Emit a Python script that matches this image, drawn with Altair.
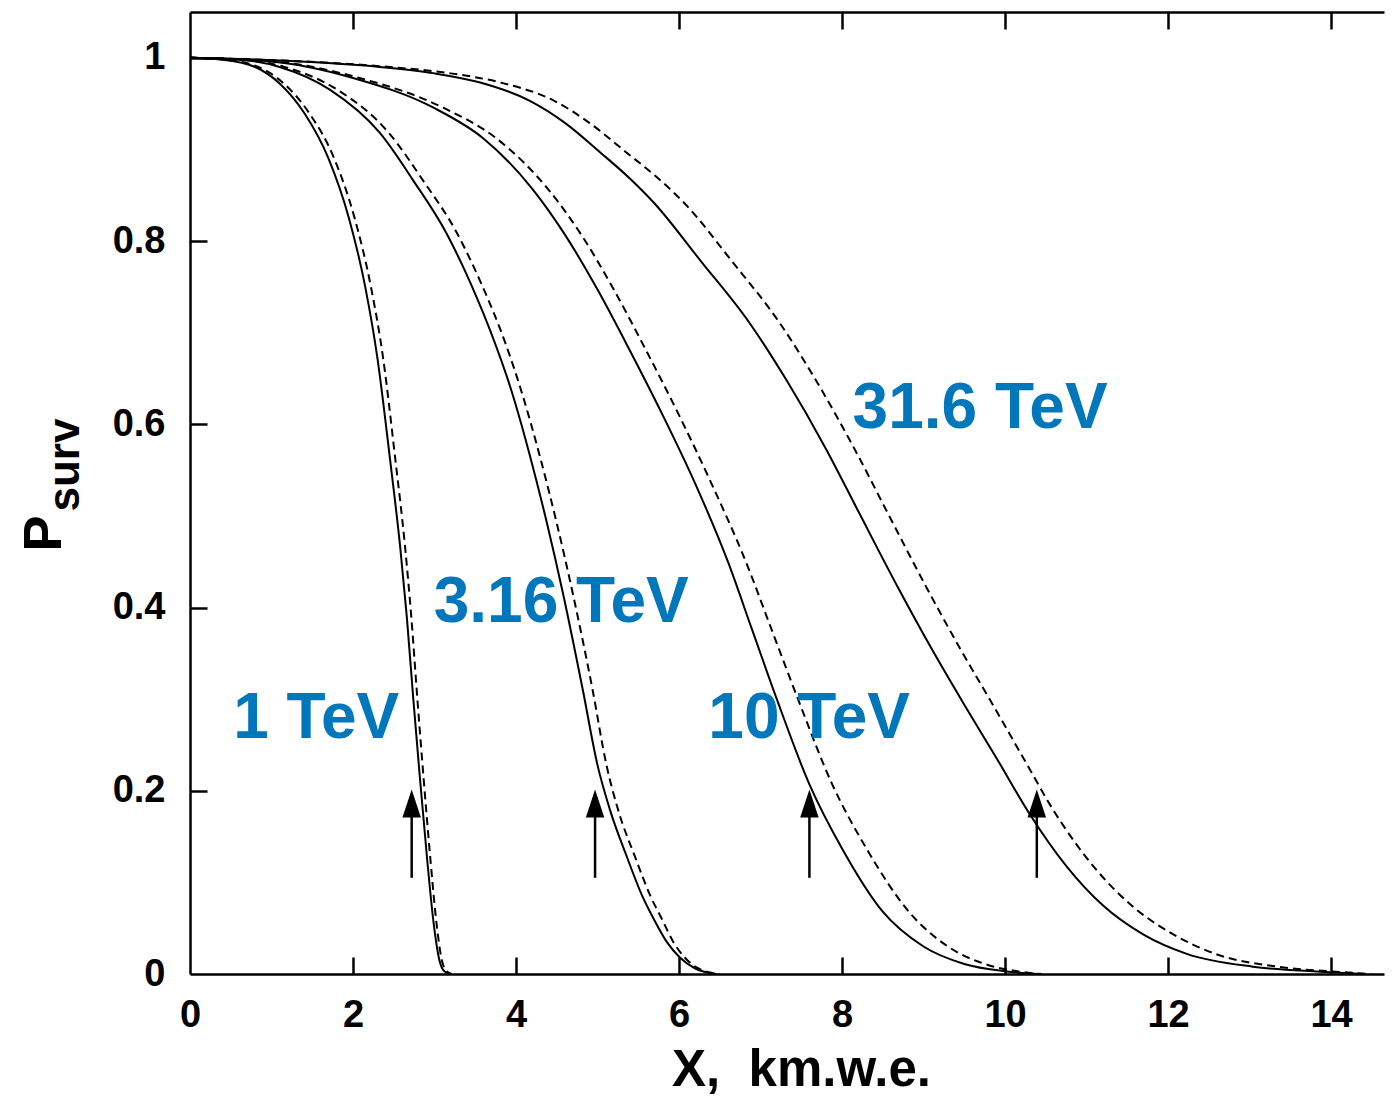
import altair as alt
import pandas as pd

# ---------------- data ----------------
e1_solid_x = [0, 0.4, 0.8, 1.1, 1.4, 1.7, 1.95, 2.15, 2.3, 2.45, 2.58, 2.66, 2.74, 2.82, 2.91, 2.99, 3.06, 3.12, 3.19]
e1_solid_y = [1, 0.998, 0.99, 0.972, 0.94, 0.89, 0.825, 0.75, 0.672, 0.565, 0.465, 0.39, 0.30, 0.215, 0.125, 0.055, 0.015, 0.003, 0.0]
e1_dash_x = [0, 0.42, 0.84, 1.15, 1.46, 1.77, 2.02, 2.22, 2.37, 2.515, 2.64, 2.715, 2.79, 2.865, 2.95, 3.025, 3.09, 3.15, 3.21]
e1_dash_y = [1, 0.998, 0.99, 0.972, 0.94, 0.89, 0.825, 0.75, 0.672, 0.565, 0.465, 0.39, 0.30, 0.215, 0.125, 0.055, 0.015, 0.003, 0.0]

e3_solid_x = [0, 0.6, 1.1, 1.72, 2.33, 2.74, 3.15, 3.35, 3.52, 3.68, 3.95, 4.17, 4.38, 4.58, 4.82, 5.0, 5.15, 5.36, 5.55, 5.69, 5.85, 6.01, 6.2, 6.46]
e3_solid_y = [1, 0.998, 0.99, 0.965, 0.918, 0.866, 0.808, 0.772, 0.738, 0.703, 0.635, 0.566, 0.492, 0.414, 0.31, 0.228, 0.18, 0.128, 0.085, 0.06, 0.035, 0.018, 0.006, 0.0]
e3_dash_x = [0, 0.63, 1.16, 1.81, 2.44, 2.86, 3.28, 3.48, 3.65, 3.81, 4.07, 4.29, 4.50, 4.70, 4.94, 5.11, 5.25, 5.46, 5.65, 5.79, 5.93, 6.07, 6.24, 6.5]
e3_dash_y = [1, 0.998, 0.99, 0.965, 0.918, 0.866, 0.808, 0.772, 0.738, 0.703, 0.635, 0.566, 0.492, 0.414, 0.31, 0.228, 0.18, 0.128, 0.085, 0.06, 0.035, 0.018, 0.006, 0.0]

e10_solid_x = [0, 1.0, 2.0, 3.0, 3.6, 4.2, 4.6, 5.0, 5.4, 5.8, 6.2, 6.6, 6.9, 7.2, 7.6, 8.0, 8.5, 9.0, 9.5, 10.0, 10.4]
e10_solid_y = [1, 0.996, 0.978, 0.945, 0.912, 0.857, 0.807, 0.747, 0.68, 0.61, 0.535, 0.45, 0.375, 0.3, 0.207, 0.137, 0.068, 0.03, 0.011, 0.003, 0.0]
e10_dash_x = [0, 1.03, 2.08, 3.12, 3.76, 4.39, 4.8, 5.2, 5.6, 6.0, 6.4, 6.82, 7.14, 7.46, 7.88, 8.3, 8.82, 9.3, 9.75, 10.15, 10.45]
e10_dash_y = [1, 0.996, 0.978, 0.945, 0.912, 0.857, 0.807, 0.747, 0.68, 0.61, 0.535, 0.45, 0.375, 0.3, 0.207, 0.137, 0.068, 0.03, 0.011, 0.003, 0.0]

e31_solid_x = [0, 1.1, 2.33, 3.0, 3.56, 4.17, 4.6, 5.03, 5.4, 5.7, 6.26, 6.87, 7.32, 7.81, 8.2, 8.68, 9.1, 9.5, 9.9, 10.3, 10.76, 11.2, 11.7, 12.23, 13.04, 13.86, 14.4]
e31_solid_y = [1, 0.997, 0.99, 0.983, 0.973, 0.953, 0.929, 0.897, 0.868, 0.841, 0.779, 0.71, 0.648, 0.572, 0.505, 0.423, 0.355, 0.294, 0.235, 0.175, 0.117, 0.075, 0.043, 0.022, 0.008, 0.0025, 0.0]
e31_dash_x = [0, 1.15, 2.45, 3.2, 3.81, 4.47, 4.9, 5.35, 5.75, 6.07, 6.64, 7.24, 7.68, 8.16, 8.55, 9.03, 9.45, 9.85, 10.23, 10.62, 11.09, 11.55, 12.07, 12.58, 13.34, 14.06, 14.5]
e31_dash_y = [1, 0.997, 0.99, 0.983, 0.973, 0.953, 0.929, 0.897, 0.868, 0.841, 0.779, 0.71, 0.648, 0.572, 0.505, 0.423, 0.355, 0.294, 0.235, 0.175, 0.117, 0.075, 0.043, 0.022, 0.008, 0.0025, 0.0]

label_text = ["1 TeV", "3.16 TeV", "10 TeV", "31.6 TeV"]
label_x = [0.53, 2.99, 6.36, 8.13]
label_y = [0.258, 0.384, 0.258, 0.596]

arrow_x = [2.72, 4.97, 7.60, 10.39]
arrow_y0 = [0.105, 0.105, 0.105, 0.105]
arrow_y1 = [0.175, 0.175, 0.175, 0.175]
arrow_head_y = [0.186, 0.186, 0.186, 0.186]

x_ticks = [0, 2, 4, 6, 8, 10, 12, 14]
y_ticks = [0, 0.2, 0.4, 0.6, 0.8, 1]

# ---------------- tables ----------------
def curve_rows(name, xs, ys):
    return [{"curve": name, "i": i, "x": a, "y": b} for i, (a, b) in enumerate(zip(xs, ys))]

solid_df = pd.DataFrame(
    curve_rows("1", e1_solid_x, e1_solid_y) + curve_rows("3.16", e3_solid_x, e3_solid_y)
    + curve_rows("10", e10_solid_x, e10_solid_y) + curve_rows("31.6", e31_solid_x, e31_solid_y))
dash_df = pd.DataFrame(
    curve_rows("1", e1_dash_x, e1_dash_y) + curve_rows("3.16", e3_dash_x, e3_dash_y)
    + curve_rows("10", e10_dash_x, e10_dash_y) + curve_rows("31.6", e31_dash_x, e31_dash_y))
label_df = pd.DataFrame({"t": label_text, "x": label_x, "y": label_y})
arrow_df = pd.DataFrame({"x": arrow_x, "y": arrow_y0, "y2": arrow_y1, "yh": arrow_head_y})

# ---------------- layout ----------------
W, H = 1194, 962
XMAX, YMAX = 14.65, 1.05
FONT = "Liberation Sans"
BLUE = "#0077bb"

xscale = alt.Scale(domain=[0, XMAX], nice=False, zero=False)
yscale = alt.Scale(domain=[0, YMAX], nice=False, zero=False)

common_axis = dict(grid=False, labelFlush=False, labelOverlap=False)

# Layer 1: solid curves, carries labelled bottom and left axes
solid = alt.Chart(solid_df).mark_line(color="black", strokeWidth=2, interpolate="monotone").encode(
    x=alt.X("x:Q", scale=xscale, axis=alt.Axis(
        orient="bottom", values=x_ticks, ticks=False, labelPadding=22,
        labelFont=FONT, labelFontSize=38, labelFontWeight="bold", labelColor="black",
        domain=True, domainColor="black", domainWidth=2.5,
        title="X,\u00a0 km.w.e.", titleFont=FONT, titleFontSize=51, titleFontWeight="bold",
        titleColor="black", titleX=611, titleY=111, titleAlign="center", titleBaseline="alphabetic",
        **common_axis)),
    y=alt.Y("y:Q", scale=yscale, axis=alt.Axis(
        orient="left", values=y_ticks, ticks=False, labelPadding=25,
        labelExpr="format(datum.value, '.1~f')",
        labelFont=FONT, labelFontSize=38, labelFontWeight="bold", labelColor="black",
        domain=True, domainColor="black", domainWidth=2.5,
        title="P", titleFont=FONT, titleFontSize=54, titleFontWeight="bold", titleColor="black",
        titleAngle=270, titleX=-130, titleY=539, titleAlign="left", titleBaseline="alphabetic",
        **common_axis)),
    detail="curve:N",
    order="i:Q",
)

# Layer 2: dashed curves, carries inward ticks at the bottom and left edges
dashed = alt.Chart(dash_df).mark_line(color="black", strokeWidth=2, strokeDash=[8, 5],
                                      interpolate="monotone").encode(
    x=alt.X("x:Q", scale=xscale, axis=alt.Axis(
        orient="top", offset=-H, values=x_ticks[1:], labels=False, domain=False,
        ticks=True, tickSize=17, tickWidth=2.5, tickColor="black", title=None, **common_axis)),
    y=alt.Y("y:Q", scale=yscale, axis=alt.Axis(
        orient="right", offset=-W, values=y_ticks[1:], labels=False, domain=False,
        ticks=True, tickSize=17, tickWidth=2.5, tickColor="black",
        title="surv", titleFont=FONT, titleFontSize=44, titleFontWeight="bold", titleColor="black",
        titleAngle=270, titleX=-112, titleY=499, titleAlign="left", titleBaseline="alphabetic",
        **common_axis)),
    detail="curve:N",
    order="i:Q",
)

# Layer 3: arrow shafts, carries the top frame line with inward ticks
shafts = alt.Chart(arrow_df).mark_rule(color="black", strokeWidth=2.5).encode(
    x=alt.X("x:Q", scale=xscale, axis=alt.Axis(
        orient="bottom", offset=-H, values=x_ticks[1:], labels=False,
        domain=True, domainColor="black", domainWidth=2.5,
        ticks=True, tickSize=17, tickWidth=2.5, tickColor="black", title=None, **common_axis)),
    y=alt.Y("y:Q", scale=yscale, axis=None),
    y2="y2:Q",
)

heads = alt.Chart(arrow_df).mark_point(
    shape="M0,-1L0.66,1L-0.66,1Z", size=784, filled=True, color="black", opacity=1, strokeWidth=0
).encode(
    x=alt.X("x:Q", scale=xscale, axis=None),
    y=alt.Y("yh:Q", scale=yscale, axis=None),
)

labels = alt.Chart(label_df).mark_text(
    align="left", baseline="alphabetic", font=FONT, fontSize=64, fontWeight="bold", color=BLUE
).encode(
    x=alt.X("x:Q", scale=xscale, axis=None),
    y=alt.Y("y:Q", scale=yscale, axis=None),
    text="t:N",
)

chart = (
    alt.layer(solid, dashed, shafts, heads, labels)
    .resolve_axis(x="independent", y="independent")
    .properties(
        width=W, height=H,
        autosize=alt.AutoSizeParams(type="none"),
        padding={"left": 182, "top": 4, "right": 2, "bottom": 126},
        background="white",
    )
    .configure_view(strokeWidth=0)
)

chart.save("out.html", embed_options={"renderer": "svg", "actions": False})
